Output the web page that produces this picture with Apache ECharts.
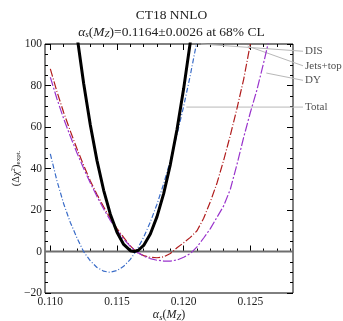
<!DOCTYPE html>
<html>
<head>
<meta charset="utf-8">
<script src="https://cdn.jsdelivr.net/npm/echarts@6/dist/echarts.min.js"></script>
<style>html,body{margin:0;padding:0;background:#fff}#c{width:343px;height:321px}</style>
</head>
<body>
<div id="c"></div>
<script>
// ---- data ----
const title = 'CT18 NNLO';
const xRange = [0.1096, 0.1282];
const yRange = [-20, 100];
const xMajorTicks = [0.110, 0.115, 0.120, 0.125];
const xMinorTicks = [0.110,0.111,0.112,0.113,0.114,0.115,0.116,0.117,0.118,0.119,0.120,0.121,0.122,0.123,0.124,0.125,0.126,0.127,0.128];

const totalAlpha = [0.1120,0.1125,0.1130,0.1135,0.1140,0.1145,0.1150,0.1155,0.1160,0.1163,0.1166,0.1170,0.1175,0.1180,0.1185,0.1190,0.1195,0.1200,0.1205];
const totalChi2  = [103.9,81,61,43.8,29.5,18,9.3,3.4,0.4,0,0.6,2.9,8.4,16.8,27.9,41.9,58.8,78.5,101];

const disAlpha = [0.1100,0.1105,0.1110,0.1115,0.1120,0.1125,0.1130,0.1135,0.1140,0.11445,0.1150,0.1155,0.1160,0.1165,0.1170,0.1175,0.1180,0.1185,0.1190,0.1195,0.1200,0.1205,0.1210];
const disChi2  = [47,34,23,14,6.5,-0.1,-4.5,-7.7,-9.5,-10,-9.2,-7.1,-3.8,0.9,6.9,14.2,22.8,32.6,43.8,56.3,70,85,101.5];

const jetsAlpha = [0.1100,0.1105,0.1110,0.1115,0.1120,0.1125,0.1130,0.1135,0.1140,0.1145,0.1150,0.1155,0.1160,0.1165,0.1170,0.1175,0.1180,0.1185,0.1190,0.1195,0.1200,0.1205,0.1210,0.1215,0.1220,0.1225,0.1230,0.1235,0.1240,0.1245,0.1250];
const jetsChi2  = [88,77,67,58,49.5,41.5,34,27.5,21.5,16,11,6.8,2.7,-0.5,-2,-2.8,-3,-2.6,-1,1.8,4.2,6.8,10,16,24,33,44,56,69,83,100];

const dyAlpha = [0.1100,0.1105,0.1110,0.1115,0.1120,0.1125,0.1130,0.1135,0.1140,0.1145,0.1150,0.1155,0.1160,0.1165,0.1170,0.1175,0.1180,0.1185,0.1190,0.1195,0.1200,0.1205,0.1210,0.1215,0.1220,0.1225,0.1230,0.1235,0.1240,0.1245,0.1250,0.1255,0.1260,0.1264];
const dyChi2  = [84,73.5,64,55.5,47.5,40,33,26.5,20.5,15,10.2,6,2.5,-0.3,-2.2,-3.4,-4.2,-4.6,-4.6,-4.1,-2.8,-1,2.2,6.5,11,16.5,22,30,42,55,67,78,91,102];

// callout labels: name, line start (alpha, chi2), line end / label anchor (alpha, chi2)
const calloutNames = ['DIS', 'Jets+top', 'DY', 'Total'];
const calloutStartAlpha = [0.1213, 0.1248, 0.1262, 0.1202];
const calloutStartChi2  = [100, 99, 86, 69.6];
const calloutEndAlpha   = [0.12895, 0.12895, 0.12895, 0.12895];
const calloutEndChi2    = [96.5, 89.5, 82.5, 69.6];

// ---- chart ----
const zip = (a, b) => a.map((v, i) => [v, b[i]]);
const serif = 'Liberation Serif';
const ink = '#222';

function xAxisDef(pos, ticks, len, labels) {
  return {
    type: 'value', position: pos, min: xRange[0], max: xRange[1],
    axisLine: {show: false},
    splitLine: {show: false},
    axisTick: {show: true, inside: true, length: len, customValues: ticks, lineStyle: {color: '#000', width: 1}},
    axisLabel: labels ? {show: true, customValues: xMajorTicks, formatter: v => v.toFixed(3), fontFamily: serif, fontSize: 11.5, color: ink, margin: 3} : {show: false}
  };
}

const xAxes = [
  Object.assign(xAxisDef('bottom', xMajorTicks, 6, true), {
    name: '{i|α}{s|s}({i|M}{s|Z})', nameLocation: 'middle', nameGap: 15, nameMoveOverlap: false,
    nameTextStyle: {fontFamily: serif, fontSize: 12, color: ink,
      rich: {i: {fontFamily: serif, fontStyle: 'italic', fontSize: 12, color: ink},
             s: {fontFamily: serif, fontStyle: 'italic', fontSize: 8.5, color: ink, padding: [5, 0, 0, 0]}}}
  }),
  xAxisDef('bottom', xMinorTicks, 3, false),
  xAxisDef('top', xMajorTicks, 6, false),
  xAxisDef('top', xMinorTicks, 3, false)
];

function yAxisDef(pos, labels) {
  return {
    type: 'value', position: pos, min: yRange[0], max: yRange[1], interval: 20,
    axisLine: {show: false}, splitLine: {show: false},
    axisTick: {show: true, inside: true, length: 6, lineStyle: {color: '#000'}},
    minorTick: {show: true, splitNumber: 4, length: 3, lineStyle: {color: '#000'}},
    axisLabel: labels ? {show: true, fontFamily: serif, fontSize: 11.5, color: ink, margin: 3,
      formatter: v => v < 0 ? '\u2212' + Math.abs(v) : String(v)} : {show: false}
  };
}
const yAxes = [
  Object.assign(yAxisDef('left', true), {
    name: '(Δχ{sup|2}){sub|expt.}', nameLocation: 'middle', nameGap: 23, nameRotate: 90, nameMoveOverlap: false,
    nameTextStyle: {fontFamily: serif, fontSize: 10.5, color: ink,
      rich: {sup: {fontFamily: serif, fontSize: 7, color: ink, padding: [0, 0, 5, 0]},
             sub: {fontFamily: serif, fontSize: 7, color: ink, padding: [5, 0, 0, 0]}}}
  }),
  yAxisDef('right', false)
];

const series = [
  {type: 'line', name: 'zero', data: [[xRange[0], 0], [xRange[1], 0]], symbol: 'none', silent: true,
   lineStyle: {color: '#6e6e6e', width: 2}, z: 1},
  {type: 'line', name: 'DIS', data: zip(disAlpha, disChi2), symbol: 'none',
   lineStyle: {color: '#3a6cc8', width: 1.2, type: [5, 2, 1, 2]}, z: 3},
  {type: 'line', name: 'Jets+top', data: zip(jetsAlpha, jetsChi2), symbol: 'none',
   lineStyle: {color: '#b01c1c', width: 1.2, type: [8, 2, 1, 2]}, z: 3},
  {type: 'line', name: 'DY', data: zip(dyAlpha, dyChi2), symbol: 'none',
   lineStyle: {color: '#9933cc', width: 1.2, type: [9, 2, 2, 2]}, z: 3},
  {type: 'line', name: 'Total', data: zip(totalAlpha, totalChi2), symbol: 'none',
   lineStyle: {color: '#000', width: 3}, z: 4},
  {type: 'custom', name: 'callout-lines', coordinateSystem: 'cartesian2d', clip: false, silent: true, z: 2,
   data: calloutNames.map((n, i) => [calloutStartAlpha[i], calloutStartChi2[i], calloutEndAlpha[i], calloutEndChi2[i]]),
   encode: {x: [0, 2], y: [1, 3]},
   renderItem: function (params, api) {
     const p1 = api.coord([api.value(0), api.value(1)]);
     const p2 = api.coord([api.value(2), api.value(3)]);
     return {type: 'line', shape: {x1: p1[0], y1: p1[1], x2: p2[0], y2: p2[1]},
             style: {stroke: '#b8b8b8', lineWidth: 1}};
   }},
  {type: 'scatter', name: 'callout-labels', clip: false, silent: true, symbolSize: 0, z: 5,
   data: calloutNames.map((n, i) => ({name: n, value: [calloutEndAlpha[i], calloutEndChi2[i]]})),
   label: {show: true, position: 'right', distance: 2, formatter: '{b}', fontFamily: serif, fontSize: 11, color: ink}}
];

const chart = echarts.init(document.getElementById('c'), null, {renderer: 'canvas'});
chart.setOption({
  animation: false,
  backgroundColor: '#fff',
  title: {
    text: title, left: 'center', top: 3, itemGap: 3,
    textStyle: {fontFamily: serif, fontSize: 13.5, fontWeight: 'normal', color: ink},
    subtext: '{i|α}{s|s}({i|M}{s|Z})=0.1164±0.0026 at 68% CL',
    subtextStyle: {fontFamily: serif, fontSize: 13.5, color: ink,
      rich: {i: {fontFamily: serif, fontStyle: 'italic', fontSize: 13.5, color: ink},
             s: {fontFamily: serif, fontStyle: 'italic', fontSize: 9, color: ink, padding: [5, 0, 0, 0]}}}
  },
  grid: {left: 45, right: 50, top: 44, bottom: 28, outerBoundsMode: 'none', show: true, borderColor: '#000', borderWidth: 1, backgroundColor: 'transparent'},
  xAxis: xAxes,
  yAxis: yAxes,
  series: series
});
</script>
</body>
</html>
